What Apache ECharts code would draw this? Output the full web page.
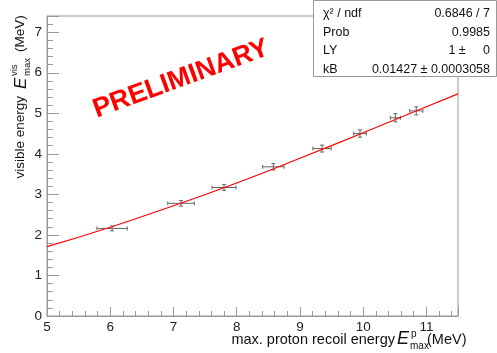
<!DOCTYPE html>
<html><head><meta charset="utf-8">
<script src="https://cdn.jsdelivr.net/npm/echarts@6/dist/echarts.min.js"></script>
<style>html,body{margin:0;padding:0;background:#fff}#c{width:497px;height:353px}</style>
</head><body><div id="c"></div>
<script>
// measured points: x (MeV), y (MeV), x error, y error
var pointX   = [6.03, 7.12, 7.80, 8.58, 9.35, 9.95, 10.51, 10.84];
var pointY   = [2.16, 2.78, 3.17, 3.68, 4.13, 4.50, 4.89, 5.06];
var pointXErr= [0.24, 0.21, 0.19, 0.17, 0.145, 0.10, 0.08, 0.105];
var pointYErr= [0.06, 0.07, 0.07, 0.08, 0.085, 0.09, 0.10, 0.10];
// fit curve
var fitX = [5, 6, 7, 8, 9, 10, 11, 11.5];
var fitY = [1.71, 2.19, 2.72, 3.28, 3.89, 4.52, 5.16, 5.48];
var xTicks = [5, 6, 7, 8, 9, 10, 11];
var yTicks = [0, 1, 2, 3, 4, 5, 6, 7];
var statNames  = ['χ² / ndf', 'Prob', 'LY', 'kB'];
var statValues = ['0.6846 / 7', '0.9985', '1 ±     0', '0.01427 ± 0.0003058'];

var FONT = 'Liberation Sans, Arial, sans-serif';
var chart = echarts.init(document.getElementById('c'), null, {renderer: 'canvas'});

var errData = pointX.map(function (x, i) { return [x, pointY[i], pointXErr[i], pointYErr[i]]; });
var fitData = fitX.map(function (x, i) { return [x, fitY[i]]; });

var axisCommon = {
  axisLine: {show: true, lineStyle: {color: '#999', width: 1}},
  axisTick: {show: true, inside: true, lineStyle: {color: '#999'}},
  minorTick: {show: true, splitNumber: 5, lineStyle: {color: '#999'}},
  splitLine: {show: false},
  axisLabel: {color: '#222', fontFamily: FONT, fontSize: 13.5, showMaxLabel: false}
};

var stat = [{type: 'rect', shape: {x: 313.5, y: 0.5, width: 183, height: 76},
  style: {fill: '#fff', stroke: '#999', lineWidth: 1}, z: 100}];
statNames.forEach(function (n, i) {
  var yy = 13.5 + i * 18.6;
  stat.push({type: 'text', x: 323, y: yy, z: 101,
    style: {text: n, fill: '#111', font: '12.5px ' + FONT, align: 'left', verticalAlign: 'middle'}});
  stat.push({type: 'text', x: 490, y: yy, z: 101,
    style: {text: statValues[i], fill: '#111', font: '12.5px ' + FONT, align: 'right', verticalAlign: 'middle'}});
});

var titles = [
  // x title
  {type: 'text', x: 395, y: 340, style: {text: 'max. proton recoil energy', fill: '#111', font: '14.5px ' + FONT, align: 'right', verticalAlign: 'middle'}},
  {type: 'text', x: 397, y: 339, style: {text: 'E', fill: '#111', font: 'italic 18px ' + FONT, align: 'left', verticalAlign: 'middle'}},
  {type: 'text', x: 411, y: 334, style: {text: 'p', fill: '#111', font: '10px ' + FONT, align: 'left', verticalAlign: 'middle'}},
  {type: 'text', x: 410, y: 346, style: {text: 'max', fill: '#111', font: '10px ' + FONT, align: 'left', verticalAlign: 'middle'}},
  {type: 'text', x: 427, y: 340, style: {text: '(MeV)', fill: '#111', font: '14.5px ' + FONT, align: 'left', verticalAlign: 'middle'}},
  // y title
  {type: 'text', x: 20, y: 96, rotation: Math.PI / 2, style: {text: 'visible energy', fill: '#111', font: '13.5px ' + FONT, align: 'right', verticalAlign: 'middle'}},
  {type: 'text', x: 21, y: 89, rotation: Math.PI / 2, style: {text: 'E', fill: '#111', font: 'italic 17px ' + FONT, align: 'left', verticalAlign: 'middle'}},
  {type: 'text', x: 14, y: 76, rotation: Math.PI / 2, style: {text: 'vis', fill: '#111', font: '9.5px ' + FONT, align: 'left', verticalAlign: 'middle'}},
  {type: 'text', x: 27, y: 76, rotation: Math.PI / 2, style: {text: 'max', fill: '#111', font: '9.5px ' + FONT, align: 'left', verticalAlign: 'middle'}},
  {type: 'text', x: 20, y: 52, rotation: Math.PI / 2, style: {text: '(MeV)', fill: '#111', font: '13.5px ' + FONT, align: 'left', verticalAlign: 'middle'}},
  // watermark
  {type: 'text', x: 181, y: 79, rotation: 0.35, z: 50, style: {text: 'PRELIMINARY', fill: '#f00', font: 'bold 27px ' + FONT, align: 'center', verticalAlign: 'middle'}}
];

chart.setOption({
  animation: false,
  backgroundColor: '#fff',
  grid: {left: 47, right: 39, top: 16, bottom: 37, show: true, borderColor: '#999', borderWidth: 1, backgroundColor: 'transparent'},
  xAxis: Object.assign({}, axisCommon, {
    type: 'value', min: 5, max: 11.5, interval: 1,
    axisTick: {show: true, inside: true, length: 9, lineStyle: {color: '#999'}},
    minorTick: {show: true, splitNumber: 5, length: 5, lineStyle: {color: '#999'}},
    axisLabel: Object.assign({}, axisCommon.axisLabel, {margin: 4})
  }),
  yAxis: Object.assign({}, axisCommon, {
    type: 'value', min: 0, max: 7.4, interval: 1,
    axisTick: {show: true, inside: true, length: 12, lineStyle: {color: '#999'}},
    minorTick: {show: true, splitNumber: 5, length: 6, lineStyle: {color: '#999'}},
    axisLabel: Object.assign({}, axisCommon.axisLabel, {margin: 5})
  }),
  graphic: titles.concat(stat),
  series: [
    {
      type: 'custom', data: errData, encode: {x: 0, y: 1}, z: 3,
      renderItem: function (params, api) {
        var x = api.value(0), y = api.value(1), ex = api.value(2), ey = api.value(3);
        var l = api.coord([x - ex, y]), r = api.coord([x + ex, y]);
        var t = api.coord([x, y + ey]), b = api.coord([x, y - ey]);
        var st = {stroke: '#666', lineWidth: 1};
        var cap = 2;
        return {type: 'group', children: [
          {type: 'line', shape: {x1: l[0], y1: l[1], x2: r[0], y2: r[1]}, style: st},
          {type: 'line', shape: {x1: t[0], y1: t[1], x2: b[0], y2: b[1]}, style: st},
          {type: 'line', shape: {x1: l[0], y1: l[1] - cap, x2: l[0], y2: l[1] + cap}, style: st},
          {type: 'line', shape: {x1: r[0], y1: r[1] - cap, x2: r[0], y2: r[1] + cap}, style: st},
          {type: 'line', shape: {x1: t[0] - cap, y1: t[1], x2: t[0] + cap, y2: t[1]}, style: st},
          {type: 'line', shape: {x1: b[0] - cap, y1: b[1], x2: b[0] + cap, y2: b[1]}, style: st}
        ]};
      }
    },
    {
      type: 'line', data: fitData, smooth: true, showSymbol: false, z: 4,
      lineStyle: {color: '#f00', width: 1.2}
    }
  ]
});
</script></body></html>
